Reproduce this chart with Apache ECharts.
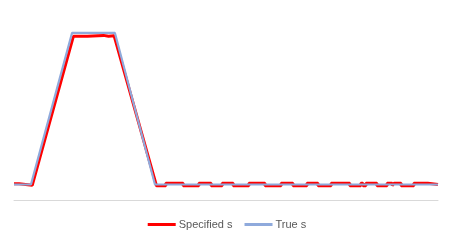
<!DOCTYPE html>
<html>
<head>
<meta charset="utf-8">
<script src="https://cdn.jsdelivr.net/npm/echarts@6/dist/echarts.min.js"></script>
<style>html,body{margin:0;padding:0;background:#fff;}#c{width:454px;height:246px;}</style>
</head>
<body>
<div id="c"></div>
<script>
// Time (arbitrary units, 0..100) and values
const trueT = [0, 4.0, 13.7, 23.8, 33.25, 100];
const trueS = [1.0, 1.0, 10.78, 10.78, 1.0, 1.0];

const specT = [0, 1.2, 1.2, 4.3, 14.0, 17.3, 17.3, 21.1, 21.1, 22.3, 22.3, 23.6, 33.6,
  35.8, 35.8, 39.9, 39.9, 43.6, 43.6, 46.5, 46.5, 49.1, 49.1, 51.7, 51.7, 55.4, 55.4,
  59.2, 59.2, 63.0, 63.0, 65.8, 65.8, 69.1, 69.1, 71.7, 71.7, 74.8, 74.8, 79.2, 79.2,
  81.8, 81.8, 82.3, 82.3, 83.0, 83.0, 85.6, 85.6, 88.0, 88.0, 89.2, 89.2, 89.6, 89.6,
  91.3, 91.3, 94.3, 94.3, 97.6, 97.6, 100];
const specS = [1.05, 1.05, 0.95, 0.95, 10.56, 10.56, 10.62, 10.62, 10.56, 10.56, 10.6, 10.6, 0.92,
  0.92, 1.08, 1.08, 0.92, 0.92, 1.08, 1.08, 0.92, 0.92, 1.08, 1.08, 0.92, 0.92, 1.08,
  1.08, 0.92, 0.92, 1.08, 1.08, 0.92, 0.92, 1.08, 1.08, 0.92, 0.92, 1.08, 1.08, 0.92,
  0.92, 1.08, 1.08, 0.92, 0.92, 1.08, 1.08, 0.92, 0.92, 1.08, 1.08, 0.92, 0.92, 1.08,
  1.08, 0.92, 0.92, 1.08, 1.08, 1.0, 1.0];

const seriesNames = ['Specified s', 'True s'];

const chart = echarts.init(document.getElementById('c'), null, {renderer: 'canvas'});
chart.setOption({
  animation: false,
  grid: {left: 14, right: 16, top: 14, bottom: 46},
  xAxis: {
    type: 'value', min: 0, max: 100,
    axisLine: {show: true, onZero: false, lineStyle: {color: '#d9d9d9', width: 1}},
    axisTick: {show: false}, axisLabel: {show: false}, splitLine: {show: false}
  },
  yAxis: {
    type: 'value', min: 0, max: 12, show: false, splitLine: {show: false}
  },
  legend: {
    data: [{name: seriesNames[0], icon: 'rect'}, {name: seriesNames[1], icon: 'rect'}],
    top: 214, left: 'center',
    itemWidth: 28, itemHeight: 3, itemGap: 12,
    textStyle: {color: '#595959', fontSize: 11, fontFamily: 'Liberation Sans', padding: [0, 0, 0, -2]}
  },
  series: [
    {
      name: seriesNames[0], type: 'line', symbol: 'none',
      lineStyle: {color: '#FF0000', width: 3}, itemStyle: {color: '#FF0000'},
      data: specT.map((t, i) => [t, specS[i]])
    },
    {
      name: seriesNames[1], type: 'line', symbol: 'none',
      lineStyle: {color: '#8FAADC', width: 2.2}, itemStyle: {color: '#8FAADC'},
      data: trueT.map((t, i) => [t, trueS[i]])
    }
  ]
});
</script>
</body>
</html>
